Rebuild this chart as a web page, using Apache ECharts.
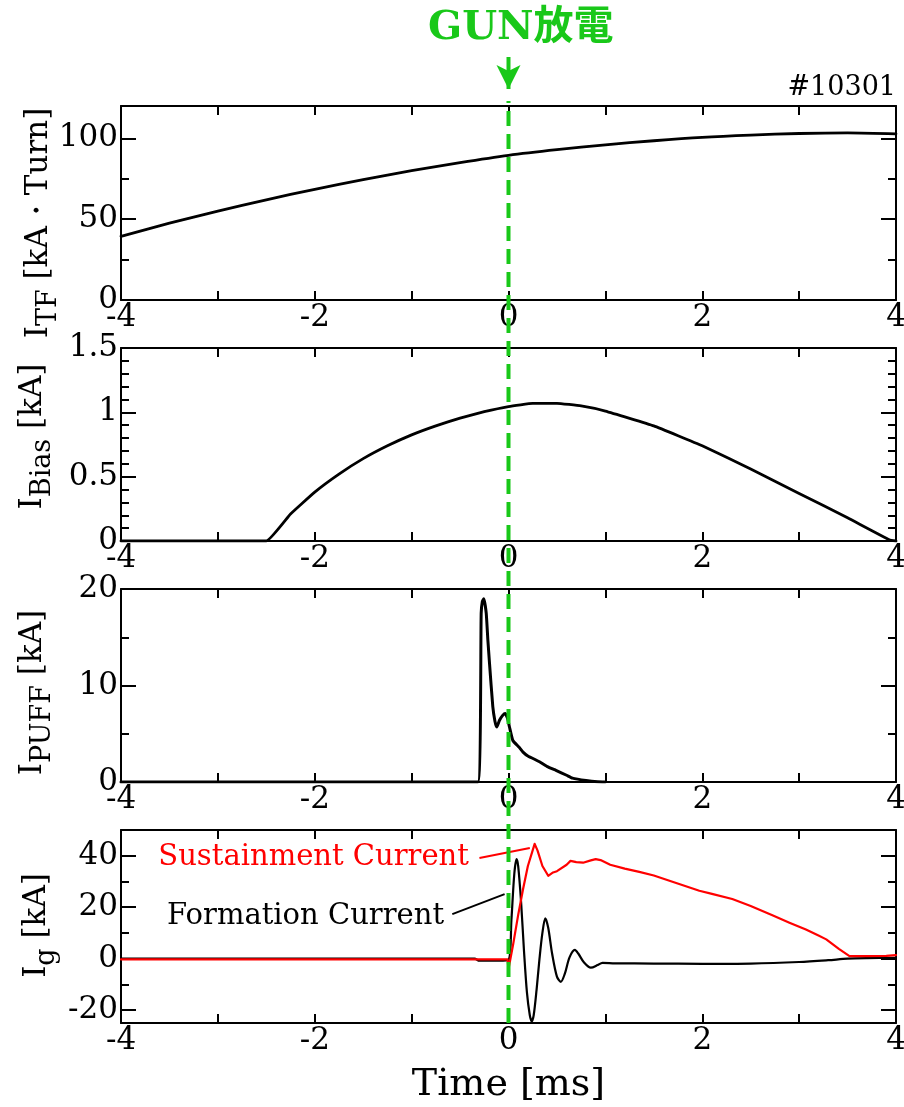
<!DOCTYPE html>
<html><head><meta charset="utf-8">
<script src="https://cdn.jsdelivr.net/npm/echarts@6/dist/echarts.min.js"></script>
<style>html,body{margin:0;padding:0;background:#fff}#c{width:904px;height:1107px}</style>
</head><body><div id="c"></div>
<script>
// ---------------- DATA ----------------
const xTickLabels = [-4, -2, 0, 2, 4];

// Panel 1: I_TF [kA・Turn]
const tfTime  = [-4, -3.5, -3, -2.5, -2, -1.5, -1, -0.5, 0, 0.5, 1, 1.5, 2, 2.5, 3, 3.5, 4];
const tfValue = [39.4, 47.5, 55, 62, 68.5, 74.5, 80, 85, 89.5, 93, 96, 98.5, 100.6, 102, 103, 103.4, 102.8];
const tfMajor = [0, 50, 100];
const tfMinor = [25, 75];

// Panel 2: I_Bias [kA]
const biasTime  = [-4, -2.5, -2.25, -2, -1.75, -1.5, -1.25, -1, -0.75, -0.5, -0.25, 0, 0.25, 0.5, 0.75, 1, 1.5, 2, 2.5, 3, 3.5, 3.93, 4];
const biasValue = [0, 0, 0.21, 0.38, 0.52, 0.64, 0.74, 0.825, 0.895, 0.955, 1.005, 1.045, 1.07, 1.07, 1.05, 1.01, 0.895, 0.74, 0.56, 0.37, 0.18, 0.01, 0.0];
const biasMajor = [0, 0.5, 1, 1.5];
const biasMinor = [0.1, 0.2, 0.3, 0.4, 0.6, 0.7, 0.8, 0.9, 1.1, 1.2, 1.3, 1.4];

// Panel 3: I_PUFF [kA]
const puffTime  = [-4, -0.316, -0.282, -0.27, -0.255, -0.23, -0.213, -0.196, -0.162, -0.14, -0.121, -0.093, -0.06, -0.035, -0.01, 0.01, 0.045, 0.11, 0.15, 0.2, 0.32, 0.4, 0.49, 0.6, 0.66, 0.8, 0.92, 1.0];
const puffValue = [0, 0, 17.5, 18.7, 19.0, 17.5, 14.7, 12.3, 7.8, 6.3, 5.7, 6.4, 6.9, 7.1, 6.6, 5.7, 4.3, 3.6, 3.1, 2.7, 2.1, 1.6, 1.2, 0.7, 0.4, 0.15, 0.02, 0];
const puffMajor = [0, 10, 20];
const puffMinor = [5, 15];

// Panel 4: Ig [kA]
const formTime  = [-4, -0.35, -0.3, -0.1, 0, 0.03, 0.06, 0.083, 0.1, 0.13, 0.16, 0.19, 0.22, 0.24, 0.26, 0.29, 0.32, 0.35, 0.38, 0.41, 0.45, 0.5, 0.54, 0.58, 0.63, 0.685, 0.72, 0.78, 0.85, 0.92, 0.97, 1.1, 1.5, 2.0, 2.5, 3.0, 3.3, 3.5, 3.7, 4];
const formValue = [0, 0, -0.8, -0.8, -0.5, 15, 33, 38.7, 36, 22, 3, -13, -22, -24.3, -22, -12, 0, 10, 15.7, 12, 2, -7, -9, -6, 0.5, 3.4, 2, -1.5, -3.5, -2.5, -1.6, -1.8, -1.9, -2.0, -1.9, -1.3, -0.6, 0, 0.2, 0.3];
const sustTime  = [-4, -0.01, 0, 0.05, 0.1, 0.15, 0.2, 0.27, 0.3, 0.35, 0.41, 0.46, 0.5, 0.6, 0.64, 0.7, 0.77, 0.85, 0.9, 0.95, 1.05, 1.2, 1.35, 1.5, 1.7, 1.97, 2.1, 2.31, 2.5, 2.73, 2.9, 3.07, 3.2, 3.28, 3.41, 3.52, 3.7, 3.9, 4];
const sustValue = [-0.3, -0.3, -4, 6, 17, 27, 36, 44.6, 42, 36, 32.2, 33.5, 34, 36.5, 38, 37.5, 37.3, 38.2, 38.7, 38.3, 36.5, 35, 33.7, 32.3, 29.8, 26.4, 25.2, 23.2, 20.5, 16.8, 14, 11.3, 9, 7.5, 3.8, 1.0, 1.0, 1.1, 1.4];
const igMajor = [-20, 0, 20, 40];
const igMinor = [-10, 10, 30];

// annotations (data coordinates)
const sustLabelAt = [-3.62, 39.5];
const formLabelAt = [-3.53, 16.5];
const sustLeader = [[-0.30, 39.1], [0.22, 43.0]];
const formLeader = [[-0.58, 17.3], [-0.04, 25.1]];
const gunTime = 0;
const xMin = -4, xMax = 4;

// ---------------- STYLE / LAYOUT ----------------
const SERIF = "'DejaVu Serif', 'Liberation Serif', serif";
const GREEN = '#19c819';
const LINE = {color: '#000', width: 2};
const zip = (a, b) => a.map((v, i) => [v, b[i]]);

const panels = [
  {top: 106, height: 194, min: 0, max: 120, major: tfMajor, minor: tfMinor,
   name: '{m|I}{s|TF}{m| [kA・Turn]}', nameGap: 66, pad: [0, 40, 0, 0]},
  {top: 348, height: 193, min: 0, max: 1.5, major: biasMajor, minor: biasMinor,
   name: '{m|I}{s|Bias}{m| [kA]}', nameGap: 72, pad: [0, 0, 0, 16]},
  {top: 589, height: 193, min: 0, max: 20, major: puffMajor, minor: puffMinor,
   name: '{m|I}{s|PUFF}{m| [kA]}', nameGap: 72, pad: [0, 14, 0, 0]},
  {top: 830, height: 193, min: -25, max: 50, major: igMajor, minor: igMinor,
   name: '{m|I}{s|g}{m| [kA]}', nameGap: 68, pad: [0, 0, 0, 2]}
];

const grids = [], xAxes = [], yAxes = [];
panels.forEach((p, i) => {
  grids.push({left: 121, right: 8, top: p.top, height: p.height, outerBoundsMode: 'none', containLabel: false});
  const xb = {gridIndex: i, type: 'value', min: xMin, max: xMax, interval: 1, splitLine: {show: false}};
  xAxes.push(Object.assign({}, xb, {
    position: 'bottom',
    axisLine: {show: true, onZero: false, lineStyle: LINE},
    axisTick: {show: true, inside: true, length: 9, lineStyle: LINE},
    axisLabel: {show: true, customValues: xTickLabels, margin: 2, color: '#000', fontSize: 31, fontFamily: SERIF},
    name: i === 3 ? 'Time [ms]' : '', nameLocation: 'middle', nameGap: 43, nameMoveOverlap: false,
    nameTextStyle: {color: '#000', fontSize: 38, fontFamily: SERIF}
  }));
  xAxes.push(Object.assign({}, xb, {
    position: 'top',
    axisLine: {show: true, onZero: false, lineStyle: LINE},
    axisTick: {show: true, inside: true, length: 9, lineStyle: LINE},
    axisLabel: {show: false}
  }));
  const yb = {gridIndex: i, type: 'value', min: p.min, max: p.max, splitLine: {show: false}};
  yAxes.push(Object.assign({}, yb, {
    position: 'left',
    axisLine: {show: true, onZero: false, lineStyle: LINE},
    axisTick: {show: true, inside: true, length: 15, customValues: p.major, lineStyle: LINE},
    axisLabel: {show: true, customValues: p.major, margin: 3, color: '#000', fontSize: 31, fontFamily: SERIF,
                formatter: v => String(v)},
    name: p.name, nameLocation: 'middle', nameGap: p.nameGap, nameMoveOverlap: false,
    nameTextStyle: {
      padding: p.pad,
      rich: {
        m: {fontSize: 31, fontFamily: SERIF, color: '#000', lineHeight: 32, verticalAlign: 'top'},
        s: {fontSize: 27, fontFamily: SERIF, color: '#000', lineHeight: 28, padding: [12, 0, 0, 0], verticalAlign: 'top'}
      }
    }
  }));
  yAxes.push(Object.assign({}, yb, {
    position: 'left',
    axisLine: {show: false, onZero: false},
    axisTick: {show: true, inside: true, length: 8, customValues: p.minor, lineStyle: LINE},
    axisLabel: {show: false}
  }));
  yAxes.push(Object.assign({}, yb, {
    position: 'right',
    axisLine: {show: true, onZero: false, lineStyle: LINE},
    axisTick: {show: true, inside: true, length: 15, customValues: p.major, lineStyle: LINE},
    axisLabel: {show: false}
  }));
  yAxes.push(Object.assign({}, yb, {
    position: 'right',
    axisLine: {show: false, onZero: false},
    axisTick: {show: true, inside: true, length: 8, customValues: p.minor, lineStyle: LINE},
    axisLabel: {show: false}
  }));
});

// overlay grids: dashed GUN line (4) and arrow (5)
grids.push({left: 121, right: 8, top: 101, bottom: 84, outerBoundsMode: 'none'});
grids.push({left: 121, right: 8, top: 57, height: 32, outerBoundsMode: 'none'});
[4, 5].forEach(g => {
  xAxes.push({gridIndex: g, type: 'value', min: xMin, max: xMax, show: false, axisLine: {onZero: false}});
  yAxes.push({gridIndex: g, type: 'value', min: 0, max: 1, show: false, axisLine: {onZero: false}});
});

const curve = (xi, yi, t, v, color, width, smooth) => ({
  type: 'line', xAxisIndex: xi, yAxisIndex: yi, data: zip(t, v), symbol: 'none',
  smooth: smooth, lineStyle: {color: color, width: width, join: 'round', cap: 'round'}, z: 3, silent: true
});

const annot = (at, txt, color) => ({
  type: 'scatter', xAxisIndex: 6, yAxisIndex: 12, data: [at], symbolSize: 1, silent: true, z: 5,
  itemStyle: {color: 'rgba(0,0,0,0)', opacity: 1},
  label: {show: true, position: 'right', distance: 0, formatter: txt, color: color, opacity: 1,
          fontSize: 29, fontFamily: SERIF, textBorderWidth: 0}
});

const series = [
  curve(0, 0, tfTime, tfValue, '#000', 2.8, 0.3),
  curve(2, 4, biasTime, biasValue, '#000', 2.8, 0.1),
  curve(4, 8, puffTime, puffValue, '#000', 3, 0.15),
  curve(6, 12, formTime, formValue, '#000', 2.2, 0.3),
  curve(6, 12, sustTime, sustValue, '#ff0000', 2.2, false),
  {type: 'line', xAxisIndex: 6, yAxisIndex: 12, data: sustLeader, symbol: 'none', lineStyle: {color: '#ff0000', width: 2}, z: 4, silent: true},
  {type: 'line', xAxisIndex: 6, yAxisIndex: 12, data: formLeader, symbol: 'none', lineStyle: {color: '#000', width: 2}, z: 4, silent: true},
  annot(sustLabelAt, 'Sustainment Current', '#ff0000'),
  annot(formLabelAt, 'Formation Current', '#000000'),
  {type: 'line', xAxisIndex: 8, yAxisIndex: 16, data: [[gunTime, 0], [gunTime, 1]], symbol: 'none', clip: false,
   lineStyle: {color: GREEN, width: 4, type: [15, 8]}, z: 20, silent: true},
  {type: 'line', xAxisIndex: 9, yAxisIndex: 17, clip: false, symbol: 'arrow', showSymbol: true, silent: true,
   data: [{value: [gunTime, 1], symbol: 'none'}, {value: [gunTime, 0], symbol: 'arrow', symbolSize: [18, 24], symbolRotate: 180}],
   itemStyle: {color: GREEN, opacity: 1}, lineStyle: {color: GREEN, width: 4}, z: 20}
];

const chart = echarts.init(document.getElementById('c'), null, {renderer: 'canvas'});
chart.setOption({
  animation: false,
  backgroundColor: '#fff',
  title: [
    {text: 'GUN放電', left: 428, top: 9, padding: 0,
     textStyle: {color: GREEN, fontSize: 40, fontWeight: 'bold', fontFamily: "'DejaVu Serif', 'Noto Sans CJK JP', serif"}},
    {text: '#10301', right: 8, top: 74, padding: 0,
     textStyle: {color: '#000', fontSize: 27, fontWeight: 'normal', fontFamily: SERIF}}
  ],
  grid: grids, xAxis: xAxes, yAxis: yAxes, series: series
});
</script></body></html>
